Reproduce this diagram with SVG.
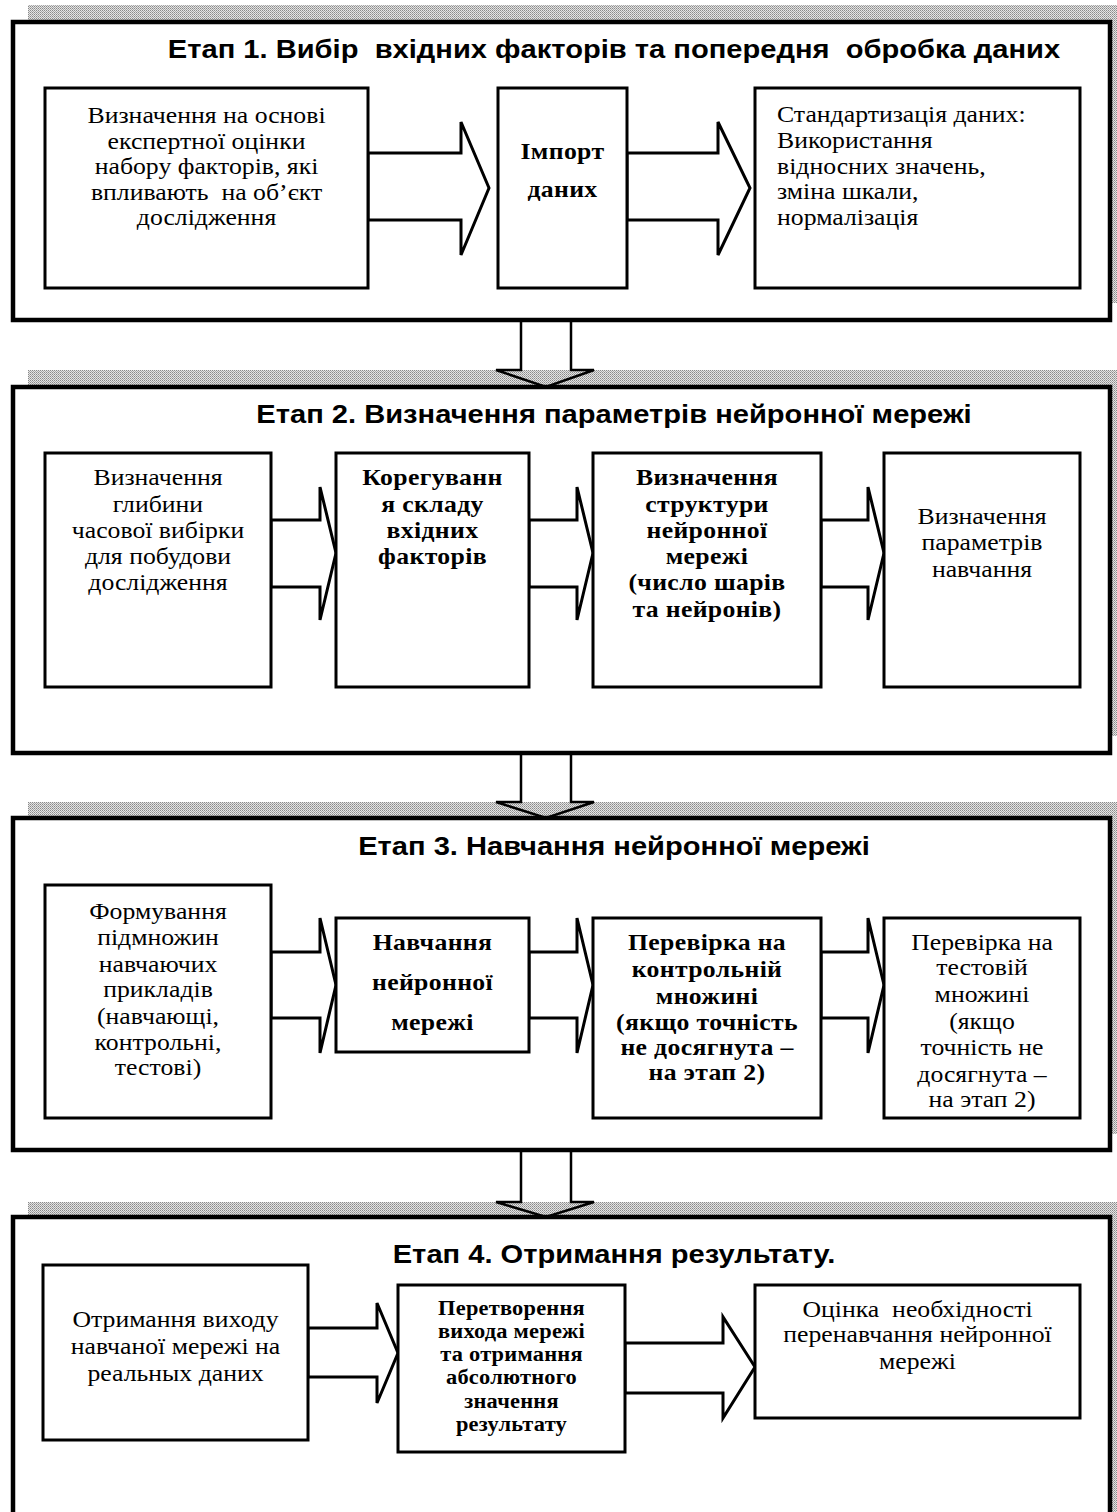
<svg xmlns="http://www.w3.org/2000/svg" width="1117" height="1512" viewBox="0 0 1117 1512">
<defs>
<pattern id="dots" width="2" height="2" patternUnits="userSpaceOnUse">
<rect width="2" height="2" fill="#e4e4e4"/>
<rect width="1" height="1" fill="#8a8a8a"/>
<rect x="1" y="1" width="1" height="1" fill="#a8a8a8"/>
</pattern>
</defs>
<style>
.sh{fill:url(#dots);stroke:none}
.fr{fill:#fff;stroke:#000;stroke-width:4.5}
.bx{fill:#fff;stroke:#000;stroke-width:3}
.ar{fill:#fff;stroke:#000;stroke-width:3;stroke-linejoin:miter}
.da{fill:none;stroke:#000;stroke-width:2.5;stroke-linejoin:miter}
.t{font-family:"Liberation Sans",Arial,sans-serif;font-weight:bold;font-size:26px;text-anchor:middle;white-space:pre}
.r{font-family:"Liberation Serif","Times New Roman",serif;font-size:23px;text-anchor:middle;white-space:pre}
.b{font-family:"Liberation Serif","Times New Roman",serif;font-size:23px;font-weight:bold;text-anchor:middle;letter-spacing:0.3px}
.l{text-anchor:start}
.s{font-size:20px;letter-spacing:0.2px}
</style>
<rect width="1117" height="1512" fill="#fff"/>
<g id="shadows">
<rect class="sh" x="28" y="5" width="1100" height="298"/>
<rect class="sh" x="28" y="370" width="1100" height="366"/>
<rect class="sh" x="28" y="802" width="1100" height="332"/>
<rect class="sh" x="28" y="1202" width="1100" height="400"/>
</g>
<g id="stage1">
<rect class="fr" x="13" y="22" width="1097" height="298"/>
<g transform="scale(1.12 1)"><text class="t" x="548.2" y="58">Етап 1. Вибір  вхідних факторів та попередня  обробка даних</text></g>
</g>
<g id="stage2">
<rect class="fr" x="13" y="387" width="1097" height="366"/>
<g transform="scale(1.12 1)"><text class="t" x="548.2" y="423">Етап 2. Визначення параметрів нейронної мережі</text></g>
</g>
<g id="stage3">
<rect class="fr" x="13" y="818" width="1097" height="332"/>
<g transform="scale(1.12 1)"><text class="t" x="548.2" y="855">Етап 3. Навчання нейронної мережі</text></g>
</g>
<g id="stage4">
<rect class="fr" x="13" y="1217" width="1097" height="400"/>
<g transform="scale(1.12 1)"><text class="t" x="548.2" y="1263">Етап 4. Отримання результату.</text></g>
</g>
<g id="connectors">
<polygon class="ar" points="368,153 461,153 461,122 489,188 461,255 461,220 368,220"/>
<polygon class="ar" points="627,153 718,153 718,122 750,188 718,255 718,220 627,220"/>
<polygon class="ar" points="271,520 320,520 320,487 336,553 320,620 320,587 271,587"/>
<polygon class="ar" points="529,520 577,520 577,487 593,553 577,620 577,587 529,587"/>
<polygon class="ar" points="821,520 868,520 868,487 884,553 868,620 868,587 821,587"/>
<polygon class="ar" points="271,952 320,952 320,918 336,985 320,1053 320,1018 271,1018"/>
<polygon class="ar" points="529,952 577,952 577,918 593,985 577,1053 577,1018 529,1018"/>
<polygon class="ar" points="821,952 868,952 868,918 884,985 868,1053 868,1018 821,1018"/>
<polygon class="ar" points="308,1328 377,1328 377,1303 398,1353 377,1403 377,1377 308,1377"/>
<polygon class="ar" points="625,1343 723,1343 723,1317 755,1367 723,1418 723,1393 625,1393"/>
<polyline class="da" points="521,322 521,370 496,370 546,387 594,370 571,370 571,322"/>
<polyline class="da" points="521,755 521,802 496,802 546,818 594,802 571,802 571,755"/>
<polyline class="da" points="521,1152 521,1202 496,1202 546,1217 594,1202 571,1202 571,1152"/>
</g>
<g id="n1a">
<rect class="bx" x="45" y="88" width="323" height="200"/>
<g transform="scale(1.12 1)">
<text class="r" x="184.4" y="123">Визначення на основі</text>
<text class="r" x="184.4" y="149">експертної оцінки</text>
<text class="r" x="184.4" y="174">набору факторів, які</text>
<text class="r" x="184.4" y="200">впливають  на об’єкт</text>
<text class="r" x="184.4" y="225">дослідження</text>
</g>
</g>
<g id="n1b">
<rect class="bx" x="498" y="88" width="129" height="200"/>
<g transform="scale(1.12 1)">
<text class="b" x="502.2" y="159">Імпорт</text>
<text class="b" x="502.2" y="197">даних</text>
</g>
</g>
<g id="n1c">
<rect class="bx" x="755" y="88" width="325" height="200"/>
<g transform="scale(1.12 1)">
<text class="r l" x="693.75" y="122">Стандартизація даних:</text>
<text class="r l" x="693.75" y="148">Використання</text>
<text class="r l" x="693.75" y="174">відносних значень,</text>
<text class="r l" x="693.75" y="199">зміна шкали,</text>
<text class="r l" x="693.75" y="225">нормалізація</text>
</g>
</g>
<g id="n2a">
<rect class="bx" x="45" y="453" width="226" height="234"/>
<g transform="scale(1.12 1)">
<text class="r" x="141.07" y="485">Визначення</text>
<text class="r" x="141.07" y="512">глибини</text>
<text class="r" x="141.07" y="538">часової вибірки</text>
<text class="r" x="141.07" y="564">для побудови</text>
<text class="r" x="141.07" y="590">дослідження</text>
</g>
</g>
<g id="n2b">
<rect class="bx" x="336" y="453" width="193" height="234"/>
<g transform="scale(1.12 1)">
<text class="b" x="386.16" y="485">Корегуванн</text>
<text class="b" x="386.16" y="512">я складу</text>
<text class="b" x="386.16" y="538">вхідних</text>
<text class="b" x="386.16" y="564">факторів</text>
</g>
</g>
<g id="n2c">
<rect class="bx" x="593" y="453" width="228" height="234"/>
<g transform="scale(1.12 1)">
<text class="b" x="631.25" y="485">Визначення</text>
<text class="b" x="631.25" y="512">структури</text>
<text class="b" x="631.25" y="538">нейронної</text>
<text class="b" x="631.25" y="564">мережі</text>
<text class="b" x="631.25" y="590">(число шарів</text>
<text class="b" x="631.25" y="617">та нейронів)</text>
</g>
</g>
<g id="n2d">
<rect class="bx" x="884" y="453" width="196" height="234"/>
<g transform="scale(1.12 1)">
<text class="r" x="876.79" y="524">Визначення</text>
<text class="r" x="876.79" y="550">параметрів</text>
<text class="r" x="876.79" y="577">навчання</text>
</g>
</g>
<g id="n3a">
<rect class="bx" x="45" y="885" width="226" height="233"/>
<g transform="scale(1.12 1)">
<text class="r" x="141.07" y="919">Формування</text>
<text class="r" x="141.07" y="945">підмножин</text>
<text class="r" x="141.07" y="972">навчаючих</text>
<text class="r" x="141.07" y="997">прикладів</text>
<text class="r" x="141.07" y="1024">(навчающі,</text>
<text class="r" x="141.07" y="1050">контрольні,</text>
<text class="r" x="141.07" y="1075">тестові)</text>
</g>
</g>
<g id="n3b">
<rect class="bx" x="336" y="918" width="193" height="134"/>
<g transform="scale(1.12 1)">
<text class="b" x="386.16" y="950">Навчання</text>
<text class="b" x="386.16" y="990">нейронної</text>
<text class="b" x="386.16" y="1030">мережі</text>
</g>
</g>
<g id="n3c">
<rect class="bx" x="593" y="918" width="228" height="200"/>
<g transform="scale(1.12 1)">
<text class="b" x="631.25" y="950">Перевірка на</text>
<text class="b" x="631.25" y="977">контрольній</text>
<text class="b" x="631.25" y="1004">множині</text>
<text class="b" x="631.25" y="1030">(якщо точність</text>
<text class="b" x="631.25" y="1055">не досягнута –</text>
<text class="b" x="631.25" y="1080">на этап 2)</text>
</g>
</g>
<g id="n3d">
<rect class="bx" x="884" y="918" width="196" height="200"/>
<g transform="scale(1.12 1)">
<text class="r" x="876.79" y="950">Перевірка на</text>
<text class="r" x="876.79" y="975">тестовій</text>
<text class="r" x="876.79" y="1002">множині</text>
<text class="r" x="876.79" y="1029">(якщо</text>
<text class="r" x="876.79" y="1055">точність не</text>
<text class="r" x="876.79" y="1082">досягнута –</text>
<text class="r" x="876.79" y="1107">на этап 2)</text>
</g>
</g>
<g id="n4a">
<rect class="bx" x="43" y="1265" width="265" height="175"/>
<g transform="scale(1.12 1)">
<text class="r" x="156.7" y="1327">Отримання виходу</text>
<text class="r" x="156.7" y="1354">навчаної мережі на</text>
<text class="r" x="156.7" y="1381">реальных даних</text>
</g>
</g>
<g id="n4b">
<rect class="bx" x="398" y="1285" width="227" height="167"/>
<g transform="scale(1.12 1)">
<text class="b s" x="456.7" y="1315">Перетворення</text>
<text class="b s" x="456.7" y="1338">вихода мережі</text>
<text class="b s" x="456.7" y="1361">та отримання</text>
<text class="b s" x="456.7" y="1384">абсолютного</text>
<text class="b s" x="456.7" y="1408">значення</text>
<text class="b s" x="456.7" y="1431">результату</text>
</g>
</g>
<g id="n4c">
<rect class="bx" x="755" y="1285" width="325" height="133"/>
<g transform="scale(1.12 1)">
<text class="r" x="819.2" y="1317">Оцінка  необхідності</text>
<text class="r" x="819.2" y="1342">перенавчання нейронної</text>
<text class="r" x="819.2" y="1369">мережі</text>
</g>
</g>
</svg>
